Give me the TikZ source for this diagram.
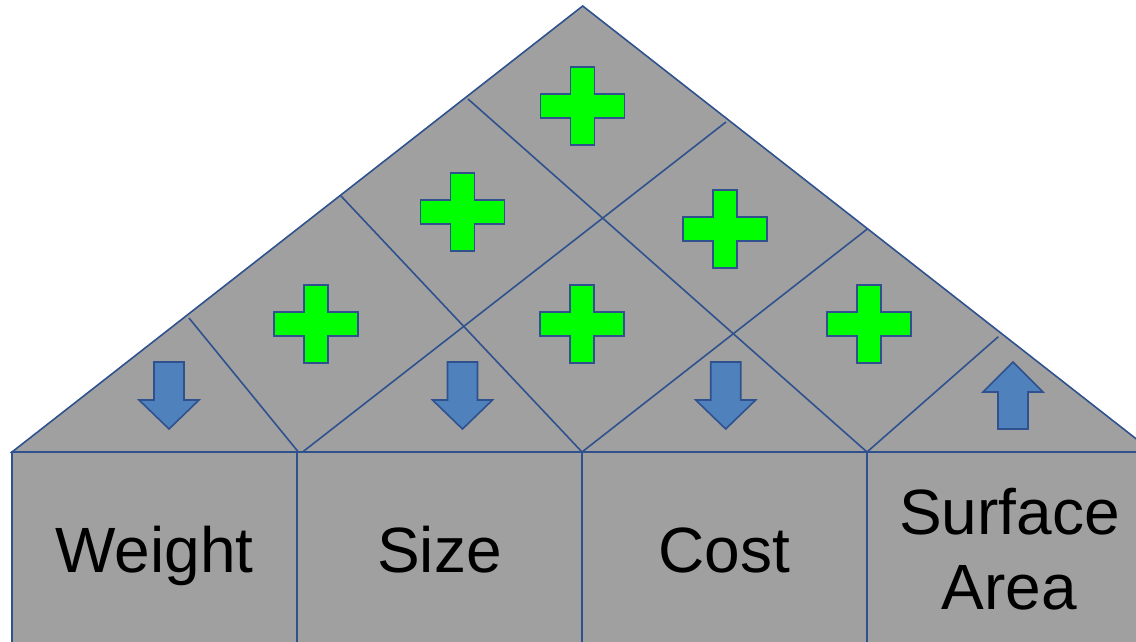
\documentclass[tikz,border=0pt]{standalone}
\usepackage{fontspec}
\setmainfont{Liberation Sans}
\usetikzlibrary{positioning}
\definecolor{edgeblue}{RGB}{47,82,143}
\definecolor{roofgray}{RGB}{160,160,160}
\definecolor{plusgreen}{RGB}{0,255,0}
\definecolor{trendblue}{RGB}{79,129,189}

\begin{document}
\begin{tikzpicture}[
	x=1pt,y=-1pt,
	edge/.style={draw=edgeblue,line width=1.6pt},
	qbox/.style={edge,fill=roofgray,rectangle,minimum width=285pt,minimum height=194pt,inner sep=0pt,outer sep=0pt,font=\fontsize{64}{76.8}\selectfont,text height=46pt,text depth=0pt,align=center},
	plusmark/.style={draw=edgeblue,line width=1.8pt,fill=plusgreen},
	trend/.style={draw=edgeblue,line width=1.6pt,fill=trendblue}
	]
	\clip (0,0) rectangle (1136,642);

	% Roof corners
	\coordinate (L0) at (12,452);
	\coordinate (T) at (582.7,6);
	\coordinate (R) at (1153,452);
	% Roof grid points
	\coordinate (L1) at (189,318);
	\coordinate (L2) at (341,196);
	\coordinate (L3) at (468,99);
	\coordinate (B1) at (300,454);
	\coordinate (B2) at (582,452);
	\coordinate (B3) at (867,452);
	\coordinate (E1) at (726,122);
	\coordinate (E2) at (867.3,229);
	\coordinate (E3) at (998.3,336.7);

	\filldraw[edge,fill=roofgray] (L0) -- (T) -- (R) -- cycle;
	\draw[edge] (L1) -- (B1);
	\draw[edge] (L2) -- (B2);
	\draw[edge] (L3) -- (B3);
	\draw[edge] (B1) -- (E1);
	\draw[edge] (B2) -- (E2);
	\draw[edge] (B3) -- (E3);

	% Correlations
	\foreach \px/\py in {582.5/106,462.5/212,725.3/229,315.8/324.3,581.7/324.3,869/324.3}
		\filldraw[plusmark,shift={(\px,\py)}] (-12,-39) -- (12,-39) -- (12,-12) -- (42,-12) -- (42,12) -- (12,12) -- (12,39) -- (-12,39) -- (-12,12) -- (-42,12) -- (-42,-12) -- (-12,-12) -- cycle;

	% Improvement directions
	\foreach \px in {169,462.5,725.7}
		\filldraw[trend,shift={(\px,0)}] (-15,362) -- (15,362) -- (15,400) -- (30,400) -- (0,429) -- (-30,400) -- (-15,400) -- cycle;
	\filldraw[trend,shift={(1013,0)}] (0,362) -- (30,392) -- (15,392) -- (15,429) -- (-15,429) -- (-15,392) -- (-30,392) -- cycle;

	% Requirements
	\node[qbox] (wt) at (154.5,549) {Weight};
	\node[qbox,right=0pt of wt] (sz) {Size};
	\node[qbox,right=0pt of sz] (ct) {Cost};
	\node[qbox,right=0pt of ct,text height=,text depth=] (sa) {Surface\\[-1.5pt]Area};

\end{tikzpicture}
\end{document}
